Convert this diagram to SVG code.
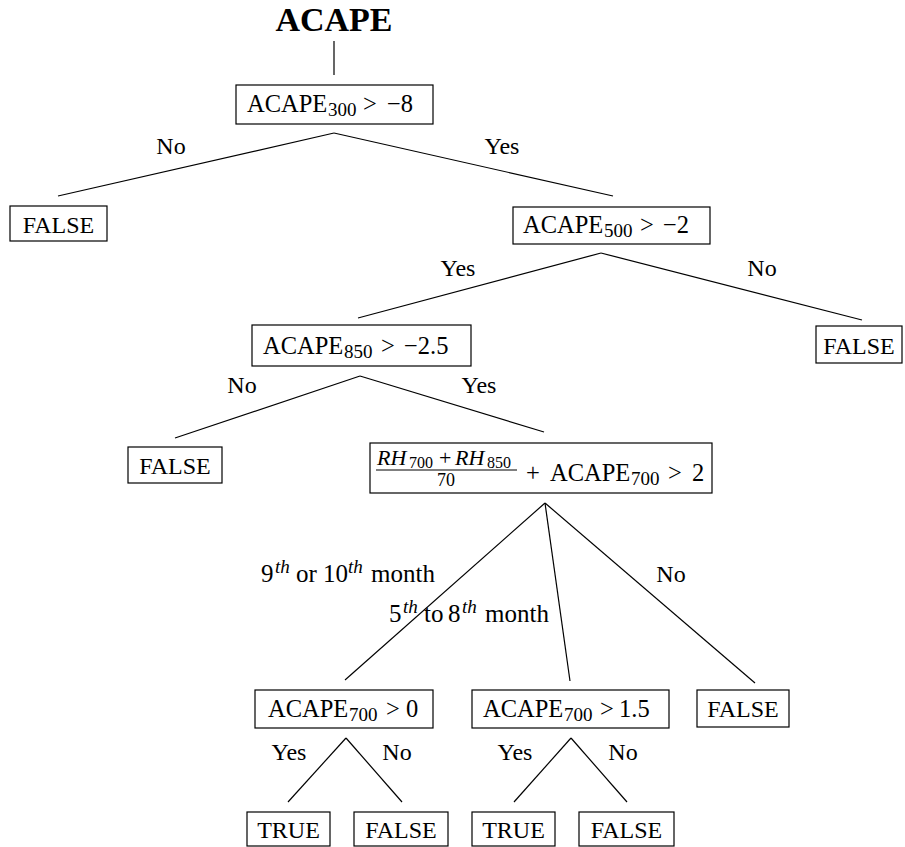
<svg xmlns="http://www.w3.org/2000/svg" width="905" height="847" viewBox="0 0 905 847">
<style>
text{font-family:"Liberation Serif","Times New Roman",serif;fill:#000}
.t{font-size:24px;text-anchor:middle}
.m{font-size:24.5px}
.lbl{font-size:24px;text-anchor:middle}
.box{fill:#fff;stroke:#000;stroke-width:1.2}
.sub{font-size:19px}
.sup{font-size:19px;font-style:italic}
.edge{stroke:#000;stroke-width:1.2;fill:none}
</style>
<rect width="905" height="847" fill="#fff"/>
<g id="connectors">
<line class="edge" x1="334" y1="41" x2="334" y2="75"/>
<line class="edge" x1="334" y1="133" x2="58" y2="196"/>
<line class="edge" x1="334" y1="133" x2="613" y2="196"/>
<line class="edge" x1="601" y1="253" x2="358" y2="318"/>
<line class="edge" x1="601" y1="253" x2="862" y2="320"/>
<line class="edge" x1="360" y1="376" x2="175" y2="438"/>
<line class="edge" x1="360" y1="376" x2="544" y2="432"/>
<line class="edge" x1="545" y1="503" x2="345" y2="680"/>
<line class="edge" x1="545" y1="503" x2="570" y2="681"/>
<line class="edge" x1="545" y1="503" x2="755" y2="683"/>
<line class="edge" x1="346" y1="738" x2="288" y2="802"/>
<line class="edge" x1="346" y1="738" x2="402" y2="802"/>
<line class="edge" x1="571" y1="738" x2="514" y2="802"/>
<line class="edge" x1="571" y1="738" x2="627" y2="802"/>
<text class="lbl" x="171" y="154">No</text>
<text class="lbl" x="502" y="154">Yes</text>
<text class="lbl" x="458" y="276">Yes</text>
<text class="lbl" x="762" y="276">No</text>
<text class="lbl" x="242" y="393">No</text>
<text class="lbl" x="479" y="393">Yes</text>
<text x="261" y="582" font-size="25">9<tspan class="sup" x="275" dy="-9">th</tspan><tspan x="296" dy="9">or</tspan><tspan x="323">10</tspan><tspan class="sup" x="348" dy="-9">th</tspan><tspan x="371" dy="9">month</tspan></text>
<text x="389" y="622" font-size="25">5<tspan class="sup" x="403" dy="-9">th</tspan><tspan x="424" dy="9">to</tspan><tspan x="448">8</tspan><tspan class="sup" x="462" dy="-9">th</tspan><tspan x="485" dy="9">month</tspan></text>
<text class="lbl" x="671" y="582">No</text>
<text class="lbl" x="289" y="760">Yes</text>
<text class="lbl" x="397" y="760">No</text>
<text class="lbl" x="515" y="760">Yes</text>
<text class="lbl" x="623" y="760">No</text>
</g>
<g id="title">
<text x="334" y="31" font-size="34" font-weight="bold" text-anchor="middle">ACAPE</text>
</g>
<g id="n1">
<rect class="box" x="236" y="85" width="197" height="39"/>
<text class="m" x="247" y="112">ACAPE<tspan class="sub" x="328" dy="4">300</tspan><tspan x="363" dy="-4">&gt;</tspan><tspan x="387">−8</tspan></text>
</g>
<g id="f1">
<rect class="box" x="10" y="206" width="97" height="35"/>
<text class="t" x="58.5" y="233">FALSE</text>
</g>
<g id="n2">
<rect class="box" x="513" y="207" width="197" height="37"/>
<text class="m" x="523" y="233">ACAPE<tspan class="sub" x="604" dy="4">500</tspan><tspan x="640" dy="-4">&gt;</tspan><tspan x="663">−2</tspan></text>
</g>
<g id="f2">
<rect class="box" x="816" y="326" width="86" height="37"/>
<text class="t" x="859" y="354">FALSE</text>
</g>
<g id="n3">
<rect class="box" x="252" y="325" width="219" height="41"/>
<text class="m" x="263" y="354">ACAPE<tspan class="sub" x="344" dy="4">850</tspan><tspan x="381" dy="-4">&gt;</tspan><tspan x="404">−2.5</tspan></text>
</g>
<g id="f3">
<rect class="box" x="128" y="447" width="94" height="36"/>
<text class="t" x="175" y="474">FALSE</text>
</g>
<g id="n4">
<rect class="box" x="370" y="443" width="342" height="50"/>
<text x="377" y="465" font-size="22"><tspan font-style="italic">RH</tspan><tspan x="409" font-size="16" dy="3">700</tspan><tspan x="439" dy="-3">+</tspan><tspan x="455" font-style="italic">RH</tspan><tspan x="487" font-size="16" dy="3">850</tspan></text>
<line x1="376" y1="470" x2="517" y2="470" stroke="#000" stroke-width="1"/>
<text x="446" y="486" font-size="18" text-anchor="middle">70</text>
<text class="m" x="526" y="481">+<tspan x="550">ACAPE</tspan><tspan class="sub" x="631" dy="4">700</tspan><tspan x="668" dy="-4">&gt;</tspan><tspan x="692">2</tspan></text>
</g>
<g id="n5">
<rect class="box" x="255" y="690" width="178" height="38"/>
<text class="m" x="268" y="717">ACAPE<tspan class="sub" x="349" dy="4">700</tspan><tspan x="386" dy="-4">&gt;</tspan><tspan x="406">0</tspan></text>
</g>
<g id="n6">
<rect class="box" x="472" y="690" width="197" height="38"/>
<text class="m" x="483" y="717">ACAPE<tspan class="sub" x="564" dy="4">700</tspan><tspan x="600" dy="-4">&gt;</tspan><tspan x="619">1.5</tspan></text>
</g>
<g id="f4">
<rect class="box" x="697" y="690" width="92" height="37"/>
<text class="t" x="743" y="717">FALSE</text>
</g>
<g id="t1">
<rect class="box" x="247" y="812" width="83" height="34"/>
<text class="t" x="288.5" y="838">TRUE</text>
</g>
<g id="f5">
<rect class="box" x="354" y="812" width="94" height="34"/>
<text class="t" x="401" y="838">FALSE</text>
</g>
<g id="t2">
<rect class="box" x="472" y="812" width="83" height="34"/>
<text class="t" x="513.5" y="838">TRUE</text>
</g>
<g id="f6">
<rect class="box" x="579" y="812" width="95" height="34"/>
<text class="t" x="626.5" y="838">FALSE</text>
</g>
</svg>
